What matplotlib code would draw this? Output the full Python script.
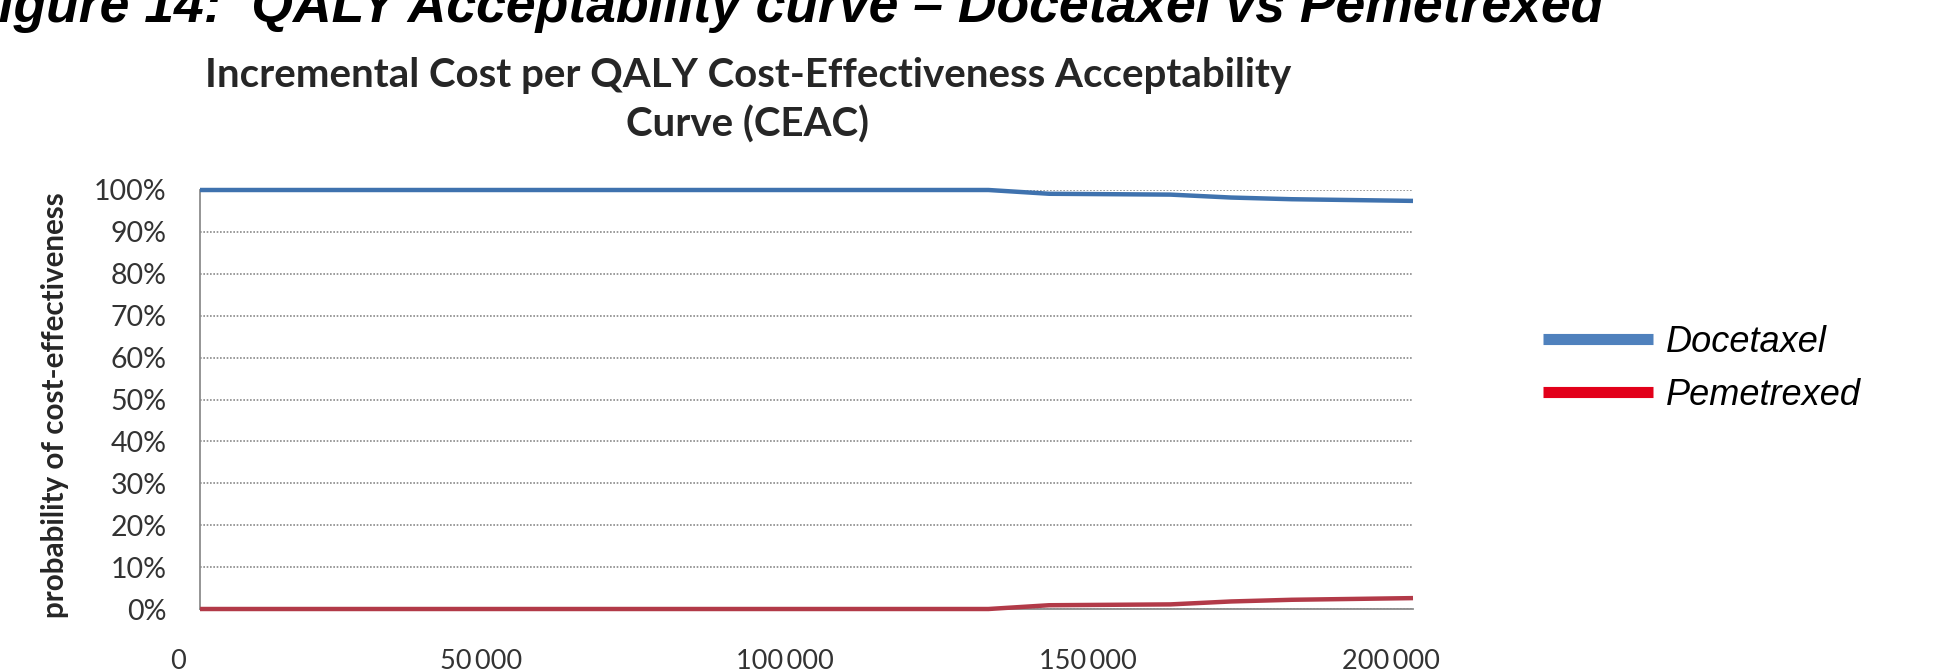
import matplotlib
matplotlib.use('Agg')
import matplotlib.pyplot as plt
import matplotlib.transforms as mtransforms
from matplotlib.lines import Line2D

# willingness-to-pay thresholds (cost per QALY)
wtp = [0, 10000, 20000, 30000, 40000, 50000, 60000, 70000, 80000, 90000, 100000,
       110000, 120000, 130000, 140000, 150000, 160000, 170000, 180000, 190000, 200000]
# probability of cost-effectiveness (%)
pemetrexed = [0, 0, 0, 0, 0, 0, 0, 0, 0, 0, 0,
              0, 0, 0, 0.9, 1.0, 1.1, 1.8, 2.2, 2.4, 2.6]
docetaxel = [100 - p for p in pemetrexed]

series_names = ['Docetaxel', 'Pemetrexed']
x_ticks = [0, 50000, 100000, 150000, 200000]
x_tick_labels = ['0', '50\u2009000', '100\u2009000', '150\u2009000', '200\u2009000']
y_ticks = [0, 10, 20, 30, 40, 50, 60, 70, 80, 90, 100]
y_tick_labels = [f'{v}%' for v in y_ticks]

W, H = 1956, 672
fig = plt.figure(figsize=(W / 100, H / 100), dpi=100)
fig.patch.set_facecolor('white')

# plot area in pixel coordinates of the original image
ax = fig.add_axes([200 / W, 1 - 609 / H, 1213 / W, 419 / H])
ax.set_xlim(0, 200000)
ax.set_ylim(0, 100)

ax.plot(wtp, docetaxel, color='#3F72AE', lw=3.2, clip_on=False,
        solid_capstyle='butt', zorder=3)
ax.plot(wtp, pemetrexed, color='#B23A48', lw=3.2, clip_on=False,
        solid_capstyle='butt', zorder=3)

ax.set_yticks(y_ticks)
ax.set_yticklabels(y_tick_labels)
ax.set_xticks(x_ticks)
ax.set_xticklabels(x_tick_labels)
ax.tick_params(length=0, colors='#333333')
ax.tick_params(axis='y', pad=24, labelsize=20.5)
ax.tick_params(axis='x', pad=29, labelsize=19.5)
for lab in ax.get_xticklabels() + ax.get_yticklabels():
    lab.set_fontfamily('Lato')
# x labels sit a little left of their ticks in the original
offset = mtransforms.ScaledTranslation(-0.22, 0, fig.dpi_scale_trans)
for lab in ax.get_xticklabels():
    lab.set_transform(lab.get_transform() + offset)

ax.yaxis.grid(True, color='#8a8a8a', linestyle=(0, (1, 1)), linewidth=1.2)
ax.set_axisbelow(True)
for side in ['top', 'right']:
    ax.spines[side].set_visible(False)
for side in ['left', 'bottom']:
    ax.spines[side].set_color('#8c8c8c')
    ax.spines[side].set_linewidth(1.3)

ax.set_ylabel('probability of cost-effectiveness', fontfamily='Lato',
              fontweight='bold', fontsize=21.3, color='#262626')
ax.yaxis.set_label_coords(69 / W, 1 - 405 / H, transform=fig.transFigure)

# chart title
fig.text(748 / W, 1 - 76 / H, 'Incremental Cost per QALY Cost-Effectiveness Acceptability',
         ha='center', va='center', fontfamily='Lato', fontweight='bold', fontsize=29,
         color='#262626')
fig.text(748 / W, 1 - 125 / H, 'Curve (CEAC)',
         ha='center', va='center', fontfamily='Lato', fontweight='bold', fontsize=29,
         color='#262626')

# figure caption, partly cut by the top edge (as in the original)
fig.text(1603 / W, 1 - 22 / H,
         'Figure 14:  QALY Acceptability curve \u2013 Docetaxel vs Pemetrexed',
         ha='right', va='baseline', fontfamily='Liberation Sans', fontweight='bold',
         fontstyle='italic', fontsize=38.5, color='black')

# legend
handles = [Line2D([], [], color='#4F81BD', lw=8, solid_capstyle='butt'),
           Line2D([], [], color='#E2001A', lw=8, solid_capstyle='butt')]
fig.legend(handles, series_names, loc='center left',
           bbox_to_anchor=(1543 / W, 1 - 369 / H), frameon=False,
           borderpad=0, borderaxespad=0, handlelength=3.05, handletextpad=0.36,
           labelspacing=0.5,
           prop={'family': 'Liberation Sans', 'style': 'italic', 'size': 26})

fig.savefig('out.png', dpi=100, facecolor='white')
